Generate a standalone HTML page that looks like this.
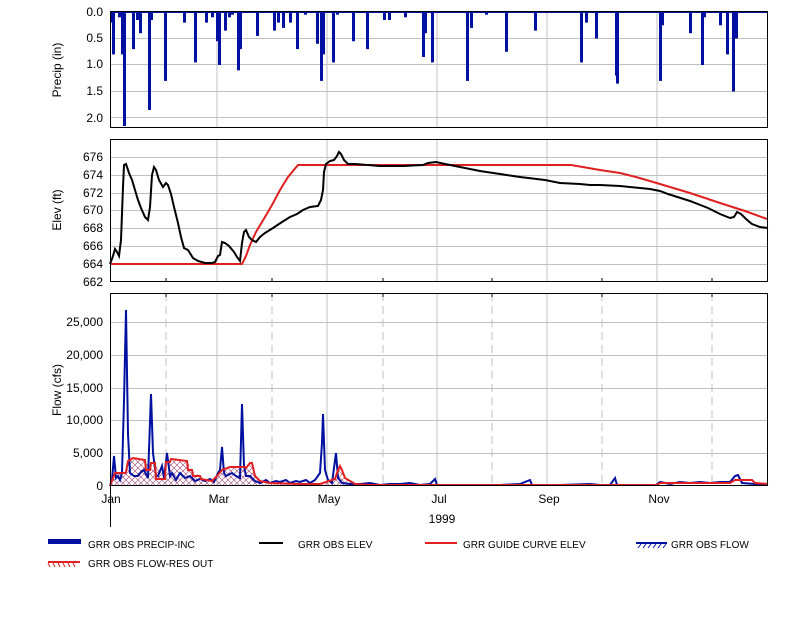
<!DOCTYPE html>
<html><head><style>body{margin:0;background:#fff}svg{display:block;font-family:"Liberation Sans",sans-serif;font-size:12px}</style></head><body>
<svg width="800" height="627" viewBox="0 0 800 627" xmlns="http://www.w3.org/2000/svg">
<g stroke="#c0c0c0" stroke-width="1">
<line x1="110" y1="38.5" x2="768" y2="38.5"/><line x1="110" y1="64.5" x2="768" y2="64.5"/><line x1="110" y1="91.5" x2="768" y2="91.5"/><line x1="110" y1="117.5" x2="768" y2="117.5"/>
<line x1="217" y1="11" x2="217" y2="128"/><line x1="327" y1="11" x2="327" y2="128"/><line x1="437" y1="11" x2="437" y2="128"/><line x1="547" y1="11" x2="547" y2="128"/><line x1="657" y1="11" x2="657" y2="128"/>
<line x1="110" y1="157.5" x2="768" y2="157.5"/><line x1="110" y1="175.5" x2="768" y2="175.5"/><line x1="110" y1="193.5" x2="768" y2="193.5"/><line x1="110" y1="210.5" x2="768" y2="210.5"/><line x1="110" y1="228.5" x2="768" y2="228.5"/><line x1="110" y1="246.5" x2="768" y2="246.5"/><line x1="110" y1="264.5" x2="768" y2="264.5"/>
<line x1="217" y1="139" x2="217" y2="282"/><line x1="327" y1="139" x2="327" y2="282"/><line x1="437" y1="139" x2="437" y2="282"/><line x1="547" y1="139" x2="547" y2="282"/><line x1="657" y1="139" x2="657" y2="282"/>
<line x1="110" y1="322.5" x2="768" y2="322.5"/><line x1="110" y1="355.5" x2="768" y2="355.5"/><line x1="110" y1="388.5" x2="768" y2="388.5"/><line x1="110" y1="420.5" x2="768" y2="420.5"/><line x1="110" y1="453.5" x2="768" y2="453.5"/>
<line x1="217" y1="293" x2="217" y2="486"/><line x1="327" y1="293" x2="327" y2="486"/><line x1="437" y1="293" x2="437" y2="486"/><line x1="547" y1="293" x2="547" y2="486"/><line x1="657" y1="293" x2="657" y2="486"/>
</g>
<g stroke="#c0c0c0" stroke-dasharray="8,5">
<line x1="166" y1="293" x2="166" y2="486"/><line x1="272" y1="293" x2="272" y2="486"/><line x1="383" y1="293" x2="383" y2="486"/><line x1="492" y1="293" x2="492" y2="486"/><line x1="602" y1="293" x2="602" y2="486"/><line x1="712" y1="293" x2="712" y2="486"/>
</g>
<g fill="#0010a0">
<rect x="110" y="12" width="3" height="10.6"/><rect x="112" y="12" width="3" height="42.4"/><rect x="118" y="12" width="3" height="5.3"/><rect x="121" y="12" width="3" height="42.4"/><rect x="123" y="12" width="3" height="114"/><rect x="132" y="12" width="3" height="37.1"/><rect x="136" y="12" width="3" height="8"/><rect x="139" y="12" width="3" height="21.2"/><rect x="148" y="12" width="3" height="98"/><rect x="150" y="12" width="3" height="8"/><rect x="164" y="12" width="3" height="68.9"/><rect x="183" y="12" width="3" height="10.6"/><rect x="194" y="12" width="3" height="50.4"/><rect x="205" y="12" width="3" height="10.6"/><rect x="211" y="12" width="3" height="5.3"/><rect x="216" y="12" width="3" height="29.2"/><rect x="218" y="12" width="3" height="53"/><rect x="224" y="12" width="3" height="18.6"/><rect x="228" y="12" width="3" height="5.3"/><rect x="231" y="12" width="3" height="2.7"/><rect x="237" y="12" width="3" height="58.3"/><rect x="239" y="12" width="3" height="37.1"/><rect x="256" y="12" width="3" height="23.9"/><rect x="273" y="12" width="3" height="18.6"/><rect x="277" y="12" width="3" height="10.6"/><rect x="282" y="12" width="3" height="15.9"/><rect x="289" y="12" width="3" height="10.6"/><rect x="296" y="12" width="3" height="37.1"/><rect x="304" y="12" width="3" height="2.7"/><rect x="316" y="12" width="3" height="31.8"/><rect x="320" y="12" width="3" height="68.9"/><rect x="322" y="12" width="3" height="42.4"/><rect x="332" y="12" width="3" height="50.4"/><rect x="336" y="12" width="3" height="2.7"/><rect x="352" y="12" width="3" height="29.2"/><rect x="366" y="12" width="3" height="37.1"/><rect x="383" y="12" width="3" height="8"/><rect x="388" y="12" width="3" height="8"/><rect x="404" y="12" width="3" height="5.3"/><rect x="422" y="12" width="3" height="45"/><rect x="424" y="12" width="3" height="21.2"/><rect x="431" y="12" width="3" height="50.4"/><rect x="466" y="12" width="3" height="68.9"/><rect x="470" y="12" width="3" height="15.9"/><rect x="485" y="12" width="3" height="2.7"/><rect x="505" y="12" width="3" height="39.8"/><rect x="534" y="12" width="3" height="18.6"/><rect x="580" y="12" width="3" height="50.4"/><rect x="585" y="12" width="3" height="10.6"/><rect x="595" y="12" width="3" height="26.5"/><rect x="615" y="12" width="3" height="63.6"/><rect x="616" y="12" width="3" height="71.6"/><rect x="659" y="12" width="3" height="68.9"/><rect x="661" y="12" width="3" height="13.3"/><rect x="689" y="12" width="3" height="21.2"/><rect x="701" y="12" width="3" height="53"/><rect x="703" y="12" width="3" height="5.3"/><rect x="719" y="12" width="3" height="13.3"/><rect x="726" y="12" width="3" height="42.4"/><rect x="732" y="12" width="3" height="79.5"/><rect x="735" y="12" width="3" height="26.5"/>
</g>
<line x1="110" y1="12" x2="768" y2="12" stroke="#0010a0" stroke-width="2"/>
<polyline fill="none" stroke="#e02020" stroke-width="2" points="110,264 242,264 246,256 250,245 256,232 265,217 272,205 280,190 288,177 298,165 571,165 600,170 620,173 636,177 660,184 690,193 720,203 745,211 767,219"/>
<polyline fill="none" stroke="#000" stroke-width="2" points="110,264 113,256 115,249 117,252 119,256 121,240 123,187 124,165 126,164 129,173 132,180 135,190 138,200 141,208 145,217 148,220 150,207 152,175 154,167 156,170 159,180 163,187 166,183 168,185 171,194 174,207 178,223 181,237 184,248 188,250 193,258 198,261 205,263 212,263 215,262 218,256 220,255 222,242 225,243 229,246 234,252 237,257 240,261 242,243 244,232 246,230 249,237 252,240 256,242 260,237 265,233 273,228 282,222 290,217 297,214 303,210 310,207 318,206 321,200 323,190 324,172 326,164 330,161 334,160 337,156 339,152 341,154 344,160 348,164 355,164 380,166 403,166 423,165 428,163 436,162 445,164 460,167 480,171 500,174 520,177 545,180 560,183 580,184 590,185 600,185 620,186 650,189 660,191 668,194 690,201 708,208 720,214 730,218 734,217 737,212 741,214 746,219 752,224 760,227 768,228"/>
<defs><pattern id="h" width="6" height="6" patternUnits="userSpaceOnUse"><path d="M0,0L6,6M6,0L0,6" stroke="#a04070" stroke-width="0.6"/></pattern></defs>
<polygon fill="url(#h)" points="110,486 115,473 125,472 128,461 133,458 145,460 150,470 155,463 165,479 170,462 175,459 187,461 192,470 200,476 205,479 212,481 217,476 222,470 230,467 245,468 250,463 255,476 260,481 270,483 300,484 320,484 335,479 340,466 345,478 355,484 370,485 768,485 768,486"/>
<polyline fill="none" stroke="#0010a0" stroke-width="2" points="110,486 112,480 114,456 116,478 118,476 120,480 122,473 124,401 126,310 128,434 130,473 134,476 138,476 141,472 144,470 148,478 151,394 153,453 156,476 158,476 162,466 164,478 167,453 170,476 172,473 176,480 180,473 185,478 190,476 195,481 200,479 205,481 210,479 214,482 218,473 220,470 222,447 224,473 226,476 232,473 236,476 240,478 242,404 244,466 246,476 250,476 255,481 260,483 266,480 270,483 276,481 280,482 286,480 290,483 296,481 300,482 306,480 310,483 315,480 320,473 322,443 323,414 325,470 328,480 332,483 336,453 338,478 342,483 350,484 360,484 370,483 380,485 390,484 400,484 410,483 420,485 430,484 435,479 437,485 445,485 470,485 500,485 520,484 530,480 532,485 560,485 590,484 600,485 610,485 615,478 617,485 656,485 660,482 670,484 680,482 690,483 700,482 710,483 720,482 730,482 735,476 738,475 742,483 755,484 768,485"/>
<polyline fill="none" stroke="#e02020" stroke-width="2" points="110,486 115,473 125,473 126,472 128,461 133,458 145,460 146,470 150,470 151,463 155,463 156,479 165,479 166,462 170,462 171,459 187,461 188,470 192,470 193,476 200,476 201,479 212,481 217,476 222,470 230,467 245,467 246,468 250,463 252,463 255,476 260,481 270,483 300,484 320,484 335,479 338,470 340,466 342,470 345,478 355,484 370,485 440,485 657,485 660,483 730,483 735,480 752,480 755,483 768,484"/>
<g fill="none" stroke="#000" stroke-width="1">
<rect x="110.5" y="11.5" width="657" height="116"/>
<rect x="110.5" y="139.5" width="657" height="142"/>
<rect x="110.5" y="293.5" width="657" height="192"/>
<line x1="110.5" y1="486" x2="110.5" y2="527"/>
</g>
<g stroke="#000"><line x1="166" y1="282" x2="166" y2="278"/><line x1="272" y1="282" x2="272" y2="278"/><line x1="383" y1="282" x2="383" y2="278"/><line x1="492" y1="282" x2="492" y2="278"/><line x1="602" y1="282" x2="602" y2="278"/><line x1="712" y1="282" x2="712" y2="278"/>
<line x1="166" y1="293" x2="166" y2="297"/><line x1="272" y1="293" x2="272" y2="297"/><line x1="383" y1="293" x2="383" y2="297"/><line x1="492" y1="293" x2="492" y2="297"/><line x1="602" y1="293" x2="602" y2="297"/><line x1="712" y1="293" x2="712" y2="297"/></g>
<g text-anchor="end" fill="#000">
<text x="103" y="16">0.0</text><text x="103" y="42">0.5</text><text x="103" y="68">1.0</text><text x="103" y="95">1.5</text><text x="103" y="122">2.0</text>
<text x="103" y="161">676</text><text x="103" y="179">674</text><text x="103" y="197">672</text><text x="103" y="214">670</text><text x="103" y="232">668</text><text x="103" y="250">666</text><text x="103" y="268">664</text><text x="103" y="286">662</text>
<text x="103" y="326">25,000</text><text x="103" y="359">20,000</text><text x="103" y="392">15,000</text><text x="103" y="424">10,000</text><text x="103" y="457">5,000</text><text x="103" y="490">0</text>
</g>
<g text-anchor="middle">
<text x="111" y="503">Jan</text><text x="219" y="503">Mar</text><text x="329" y="503">May</text><text x="439" y="503">Jul</text><text x="549" y="503">Sep</text><text x="659" y="503">Nov</text>
<text x="442" y="523">1999</text>
<text transform="translate(61,70) rotate(-90)">Precip (in)</text>
<text transform="translate(61,210) rotate(-90)">Elev (ft)</text>
<text transform="translate(61,390) rotate(-90)">Flow (cfs)</text>
</g>
<g font-size="10">
<rect x="48" y="539" width="33" height="5" fill="#0010a0"/><text x="88" y="548">GRR OBS PRECIP-INC</text>
<line x1="259" y1="543" x2="283" y2="543" stroke="#000" stroke-width="2"/><text x="298" y="548">GRR OBS ELEV</text>
<line x1="425" y1="543" x2="457" y2="543" stroke="#e02020" stroke-width="2"/><text x="463" y="548">GRR GUIDE CURVE ELEV</text>
<line x1="636" y1="543" x2="667" y2="543" stroke="#0010a0" stroke-width="2"/><path d="M638,548l3,-4M643,548l3,-4M648,548l3,-4M653,548l3,-4M658,548l3,-4M663,548l3,-4" stroke="#0010a0"/><text x="671" y="548">GRR OBS FLOW</text>
<line x1="48" y1="562" x2="80" y2="562" stroke="#e02020" stroke-width="2"/><path d="M50,567l-2,-4M55,567l-2,-4M60,567l-2,-4M65,567l-2,-4M70,567l-2,-4M75,567l-2,-4" stroke="#e02020"/><text x="88" y="567">GRR OBS FLOW-RES OUT</text>
</g>
</svg>
</body></html>
